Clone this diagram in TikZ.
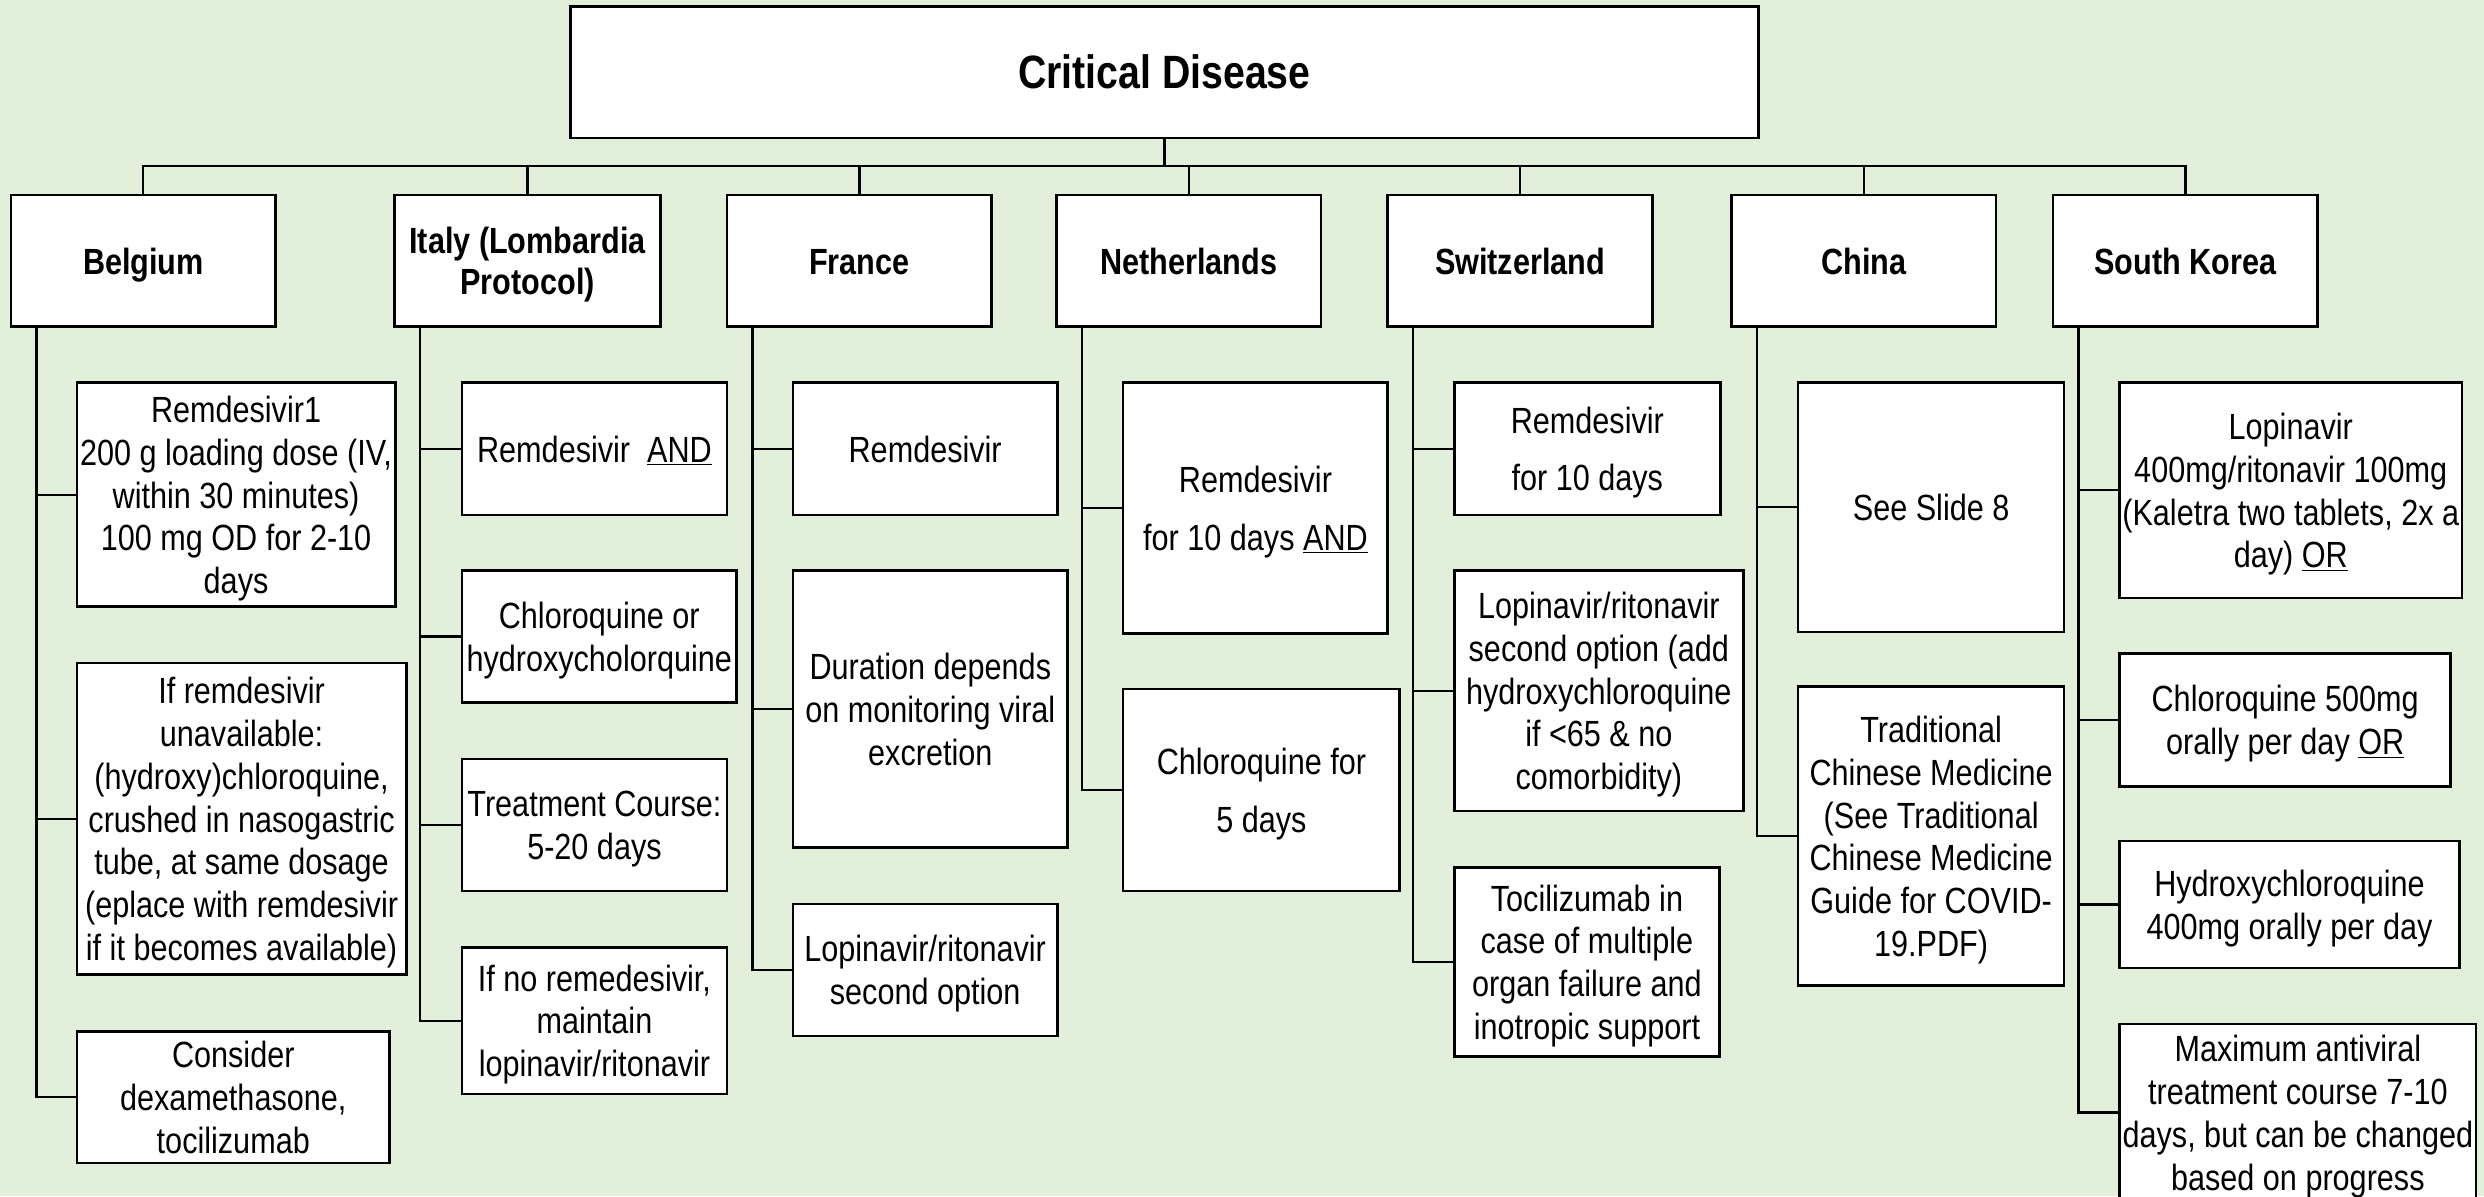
\documentclass[tikz,border=0pt]{standalone}
\usepackage{fontspec}
\setmainfont{Liberation Sans}[FakeStretch=0.84]
\definecolor{sheet}{RGB}{226,239,218}
% a zero-width strut so that every text block gets the same top and bottom
\newcommand\evenstrut{\rule[-4.8pt]{0pt}{21.6pt}}
% \bx{name}{x1}{y1}{x2}{y2}{style}{text}: a box given by two corners,
% its text set a little below the geometric centre
\newcommand\bx[7]{%
  \node[#6, minimum width={#4-#2}, minimum height={#5-#3}] (#1) at ({(#2+#4)/2},{(#3+#5)/2}) {};
  \node[#6, draw=none, fill=none, boxtext] (#1t) at ([yshift=-\textdrop]#1.center) {#7};}
\newlength\textdrop
\begin{document}
\begin{tikzpicture}[x=1pt,y=-1pt,
  box/.style={draw=black, line width=1.6pt, fill=white, align=center, inner sep=0pt,
              font=\fontsize{23}{27}\selectfont},
  boxtext/.style={execute at begin node=\evenstrut, execute at end node=\evenstrut},
  airy/.style={box, font=\fontsize{23}{36.5}\selectfont},
  head/.style={box, font=\fontsize{23}{25.5}\selectfont\bfseries},
  titlebox/.style={box, font=\fontsize{29.5}{34}\selectfont\bfseries},
  link/.style={line width=1.4pt, draw=black},
  trunk/.style={xshift=16.8pt}]
\useasboundingbox (0,0) rectangle (1568,755);
\fill[sheet] (0,0) rectangle (1568,755);
\clip (0,0) rectangle (1568,755);

% top of the tree
\setlength\textdrop{0pt}
\node[titlebox, minimum width=750, minimum height=83] (title) at (735,45.5) {Critical Disease};

\setlength\textdrop{2.5pt}
% countries
\bx{bel}{7}{123}{174}{206}{head}{Belgium}
\bx{ita}{249}{123}{417}{206}{head}{Italy (Lombardia\\Protocol)}
\bx{fra}{459}{123}{626}{206}{head}{France}
\bx{ned}{667}{123}{834}{206}{head}{Netherlands}
\bx{swi}{876}{123}{1043}{206}{head}{Switzerland}
\bx{chn}{1093}{123}{1260}{206}{head}{China}
\bx{kor}{1296}{123}{1463}{206}{head}{South Korea}

% Belgium
\bx{b1}{48.5}{241.5}{249.5}{383}{box}{Remdesivir1\\200 g loading dose (IV,\\within 30 minutes)\\100 mg OD for 2-10\\days}
\bx{b2}{48.5}{418.5}{256.5}{615}{box}{If remdesivir\\unavailable:\\(hydroxy)chloroquine,\\crushed in nasogastric\\tube, at same dosage\\(eplace with remdesivir\\if it becomes available)}
\bx{b3}{48.5}{651}{246}{734}{box}{Consider\\dexamethasone,\\tocilizumab}

% Italy
\bx{i1}{291.5}{241.5}{459}{325}{box}{Remdesivir~ \underline{AND}}
\bx{i2}{291.5}{360}{465}{443.5}{box}{Chloroquine or\\hydroxycholorquine}
\bx{i3}{291.5}{479}{459}{562.5}{box}{Treatment Course:\\5-20 days}
\bx{i4}{291.5}{598}{459}{690.5}{box}{If no remedesivir,\\maintain\\lopinavir/ritonavir}

% France
\bx{f1}{500.5}{241.5}{667.5}{325}{box}{Remdesivir}
\bx{f2}{500.5}{360}{674}{535}{box}{Duration depends\\on monitoring viral\\excretion}
\bx{f3}{500.5}{570.5}{667.5}{654}{box}{Lopinavir/ritonavir\\second option}

% Netherlands
\bx{n1}{709}{241.5}{876}{400}{airy}{Remdesivir\\for 10 days \underline{AND}}
\bx{n2}{709}{435}{883.5}{562.5}{airy}{Chloroquine for\\5 days}

% Switzerland
\bx{s1}{918}{241.5}{1086}{325}{airy}{Remdesivir\\for 10 days}
\bx{s2}{918}{360}{1100.5}{512}{box}{Lopinavir/ritonavir\\second option (add\\hydroxychloroquine\\if <65 \& no\\comorbidity)}
\bx{s3}{918}{547.5}{1085.5}{667}{box}{Tocilizumab in\\case of multiple\\organ failure and\\inotropic support}

% China
\bx{c1}{1135}{241.5}{1303}{399}{box}{See Slide 8}
\bx{c2}{1135}{433.5}{1303}{622}{box}{Traditional\\Chinese Medicine\\(See Traditional\\Chinese Medicine\\Guide for COVID-\\19.PDF)}

% South Korea
\bx{k1}{1338}{241.5}{1554}{377.5}{box}{Lopinavir\\400mg/ritonavir 100mg\\(Kaletra two tablets, 2x a\\day) \underline{OR}}
\bx{k2}{1338}{412.5}{1547}{496.5}{box}{Chloroquine 500mg\\orally per day \underline{OR}}
\bx{k3}{1338}{531}{1552.5}{611}{box}{Hydroxychloroquine\\400mg orally per day}
\bx{k4}{1338}{646.5}{1563}{758}{box}{Maximum antiviral\\treatment course 7-10\\days, but can be changed\\based on progress}

% bus from the title to every country
\coordinate (bus) at (735,105);
\draw[link] (title.south) -- (bus);
\foreach \c in {bel,ita,fra,ned,swi,chn,kor}
  \draw[link] (bus) -| (\c.north);

% trunks from each country to its entries
\foreach \c/\list in {bel/{b1,b2,b3}, ita/{i1,i2,i3,i4}, fra/{f1,f2,f3},
                      ned/{n1,n2}, swi/{s1,s2,s3}, chn/{c1,c2}, kor/{k1,k2,k3,k4}}
  \foreach \e in \list
    \draw[link] ([trunk]\c.south west) |- (\e.west);
\end{tikzpicture}
\end{document}
